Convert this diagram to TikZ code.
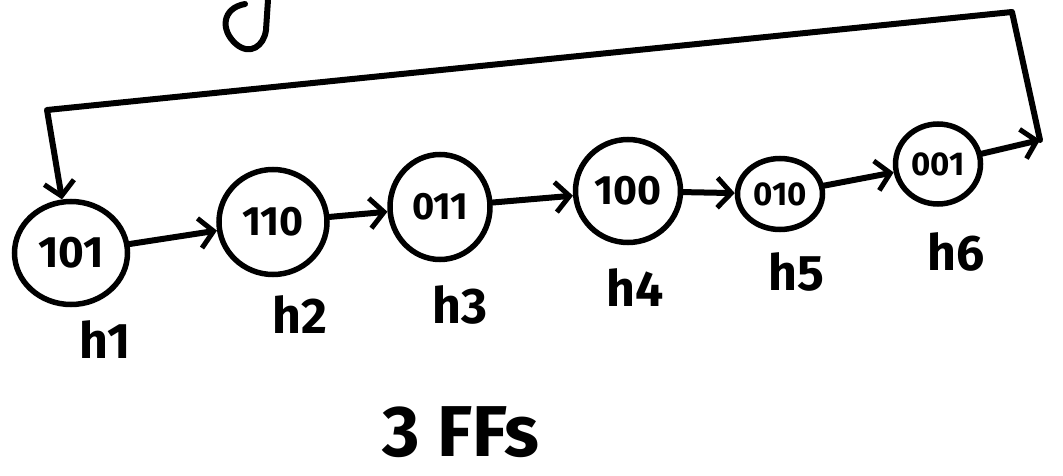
\documentclass[tikz,border=0pt]{standalone}
\usepackage{fontspec}
\setmainfont{Fira Sans}
\usetikzlibrary{shapes.geometric,arrows.meta}
\begin{document}
\begin{tikzpicture}[x=1pt,y=-1pt,
  state/.style={ellipse,draw,line width=5.5pt,inner sep=0pt,font=\fontsize{41}{41}\selectfont\bfseries},
  conn/.style={line width=6pt,line cap=round,line join=round,-{Straight Barb[length=14pt,width=30pt,line width=5pt]}},
  wire/.style={line width=6pt,line cap=round,line join=round},
  lab/.style={font=\fontsize{50}{50}\selectfont\bfseries,inner sep=0pt}]
\useasboundingbox (0,0) rectangle (1063,476);
% states
\node[state,minimum width=113pt,minimum height=103pt,font=\fontsize{44}{44}\selectfont\bfseries] (h1) at (71,253) {101};
\node[state,minimum width=108pt,minimum height=105pt] (h2) at (273,222) {110};
\node[state,minimum width=100pt,minimum height=105pt,font=\fontsize{38}{38}\selectfont\bfseries] (h3) at (440,207) {011};
\node[state,minimum width=105pt,minimum height=103pt] (h4) at (628,191) {100};
\node[state,minimum width=85pt,minimum height=71pt,font=\fontsize{33}{33}\selectfont\bfseries] (h5) at (780,194) {010};
\node[state,minimum width=85pt,minimum height=80pt,font=\fontsize{33}{33}\selectfont\bfseries] (h6) at (938,164) {001};
% labels
\node[lab] (l1) at (105,340) {h1};
\node[lab] (l2) at (300,315) {h2};
\node[lab] (l3) at (460,305) {h3};
\node[lab] (l4) at (635,288) {h4};
\node[lab] (l5) at (796,272) {h5};
\node[lab] (l6) at (956,252) {h6};
\node[font=\fontsize{72}{72}\selectfont\bfseries,inner sep=0pt] (ffs) at (461,432) {3 FFs};
% chain
\draw[conn] (h1) -- (h2);
\draw[conn] (h2) -- (h3);
\draw[conn] (h3) -- (h4);
\draw[conn] (h4) -- (h5);
\draw[conn] (h5) -- (h6);
% feedback loop
\coordinate (c1) at (1040,140);
\coordinate (tr) at (1012,12);
\coordinate (tl) at (47,110);
\draw[conn] (h6) -- (c1);
\draw[conn] (c1) -- (tr) -- (tl) -- (h1);
% fragment at top
\draw[wire] (245,4) .. controls (222,8) and (220,30) .. (236,44) .. controls (250,56) and (264,46) .. (266,30) -- (268,0);
\end{tikzpicture}
\end{document}
